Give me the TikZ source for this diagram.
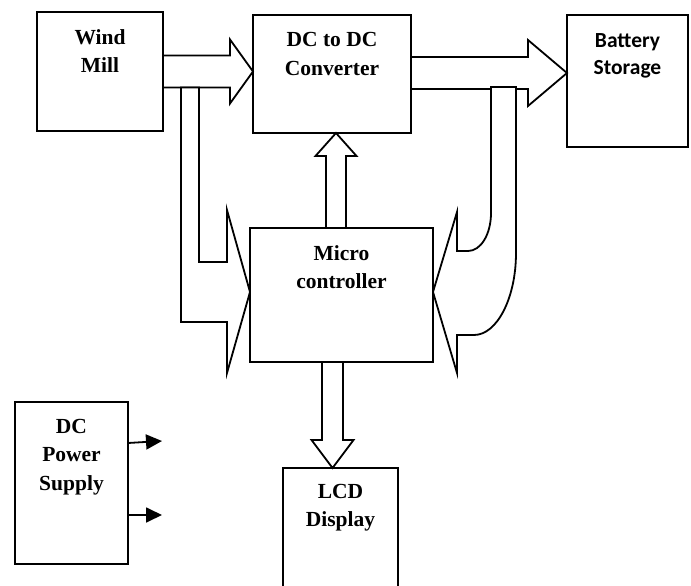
\documentclass[tikz,border=0pt]{standalone}
\usepackage{fontspec}
\setmainfont{Liberation Serif}
\newfontfamily\calib{Carlito}
\usetikzlibrary{calc,arrows.meta,backgrounds}
\begin{document}
\begin{tikzpicture}[x=1pt,y=-1pt,
  box/.style={draw,line width=1.8pt,inner sep=0pt,outer sep=0pt},
  lbl/.style={anchor=north,align=center,inner sep=0pt,font=\bfseries\fontsize{21.5}{28.5}\selectfont},
  slbl/.style={anchor=north,align=center,inner sep=0pt,font=\calib\bfseries\fontsize{21.5}{27}\selectfont},
  blk/.style={draw,fill=white,line width=1.8pt,line join=miter},
  pa/.style={line width=1.8pt,-{Triangle[length=16pt,width=15pt]}}]
\useasboundingbox (0,0) rectangle (691,586);
% boxes
\node[box,minimum width=126pt,minimum height=119pt] (wm) at (100,71.5) {};
\node[box,minimum width=158pt,minimum height=118pt] (dc) at (332,74) {};
\node[box,minimum width=121pt,minimum height=132pt] (bat) at (627.5,81) {};
\node[box,minimum width=183pt,minimum height=134pt] (mc) at (341.5,295) {};
\node[box,minimum width=115pt,minimum height=124pt] (lcd) at (340.5,530) {};
\node[box,minimum width=113pt,minimum height=162pt] (ps) at (71.5,483) {};
% labels
\node[lbl] (wmt) at ($(wm.north)+(0,17)$) {Wind\\Mill};
\node[lbl] (dct) at ($(dc.north)+(0,17.5)$) {DC to DC\\Converter};
\node[slbl] (batt) at ($(bat.north)+(0,18)$) {Battery\\Storage};
\node[lbl] (mct) at ($(mc.north)+(0,17)$) {Micro\\controller};
\node[lbl] (lcdt) at ($(lcd.north)+(0,16)$) {LCD\\Display};
\node[lbl] (pst) at ($(ps.north)+(0,17)$) {DC\\Power\\Supply};
% helper coordinates
\coordinate (c2) at ($(dc.east)+(0,-1)$);
\coordinate (c3) at ($(mc.north)+(-5.5,0)$);
\coordinate (c4) at ($(mc.south)+(-9,0)$);
\coordinate (tl) at ($(mc.west)+(0,-3)$);
\coordinate (tr) at ($(mc.east)+(0,-3)$);
\coordinate (p1) at (162,441);
\coordinate (p2) at (162,515);
\begin{pgfonlayer}{background}
% wind mill -> converter
\draw[blk] ($(wm.east)+(0,-16)$) -- ++(67,0) -- ++(0,-16) -- (dc.west |- wm.east)
  -- ($(wm.east)+(67,32)$) -- ++(0,-16) -- ($(wm.east)+(0,16)$);
% converter -> battery
\draw[blk] ($(c2)+(0,-16)$) -- ($(c2)+(117,-16)$) -- ($(c2)+(117,-33)$) -- (bat.west |- c2)
  -- ($(c2)+(117,33)$) -- ($(c2)+(117,16)$) -- ($(c2)+(0,16)$);
% left feedback (wind mill -> micro)
\draw[blk] (181,87.5) -- (181,322) -- (227,322) -- ($(tl)+(-23,81)$) -- (tl)
  -- ($(tl)+(-23,-82)$) -- (227,262) -- (199,262) -- (199,87.5) -- cycle;
% right feedback (converter -> micro)
\draw[blk] (491,87) -- (491,213) .. controls (491,234) and (481,251) .. (468,251)
  -- (457,251) -- ($(tr)+(24,-80)$) -- (tr) -- ($(tr)+(24,81)$) -- (457,335) -- (474,335)
  .. controls (497,335) and (516,298) .. (516,253) -- (516,87) -- cycle;
% micro -> converter
\draw[blk] ($(c3)+(-10,0)$) -- ($(c3)+(-10,-72)$) -- ($(c3)+(-20.5,-72)$) -- (c3 |- dc.south)
  -- ($(c3)+(20.5,-72)$) -- ($(c3)+(10,-72)$) -- ($(c3)+(10,0)$);
% micro -> LCD
\draw[blk] ($(c4)+(-10.5,0)$) -- ($(c4)+(-10.5,78)$) -- ($(c4)+(-21,78)$) -- (c4 |- lcd.north)
  -- ($(c4)+(21,78)$) -- ($(c4)+(10.5,78)$) -- ($(c4)+(10.5,0)$);
\end{pgfonlayer}
% power supply outputs
\draw[pa] ($(ps.east)+(0,-40)$) -- (p1);
\draw[pa] ($(ps.east)+(0,32)$) -- (p2);
\end{tikzpicture}
\end{document}
